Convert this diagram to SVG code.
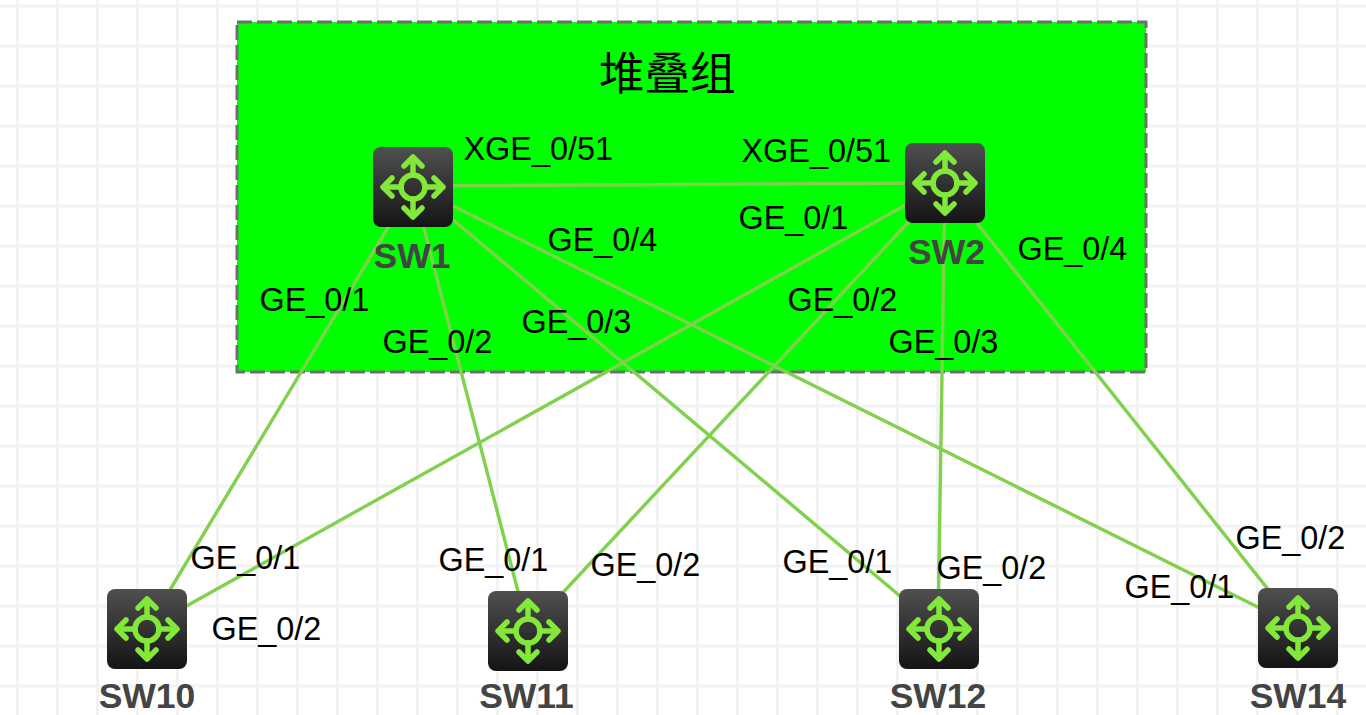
<svg xmlns="http://www.w3.org/2000/svg" width="1366" height="715" viewBox="0 0 1366 715">
<style>
.grid line{stroke:#f3f3f3;stroke-width:3}
.lnk line{stroke:#80d14c;stroke-width:3.4}
.lbl{font:32.4px "Liberation Sans",Arial,sans-serif;fill:#000}
.nm{font:bold 35.5px "Liberation Sans",Arial,sans-serif;fill:#444;text-anchor:middle}
.ic{fill:none;stroke:#82e83a;stroke-width:5.5;stroke-linecap:round;stroke-linejoin:round}
</style>
<defs>
<linearGradient id="g" x1="0" y1="0" x2="0" y2="1"><stop offset="0" stop-color="#505050"/><stop offset="1" stop-color="#141414"/></linearGradient>
<g id="sw">
<rect width="80" height="80" rx="8" fill="url(#g)"/>
<g class="ic">
<circle cx="40" cy="40" r="12"/>
<path d="M40 28V11M40 52V69M28 40H11M52 40H69"/>
<path d="M31 19L40 10L49 19M31 61L40 70L49 61M19 31L10 40L19 49M61 31L70 40L61 49"/>
</g>
</g>
</defs>
<rect width="1366" height="715" fill="#fff"/>
<g class="grid">
<line x1="17.500" y1="0" x2="17.500" y2="715"/><line x1="57.500" y1="0" x2="57.500" y2="715"/><line x1="97.500" y1="0" x2="97.500" y2="715"/><line x1="137.500" y1="0" x2="137.500" y2="715"/><line x1="177.500" y1="0" x2="177.500" y2="715"/><line x1="217.500" y1="0" x2="217.500" y2="715"/><line x1="257.500" y1="0" x2="257.500" y2="715"/><line x1="297.500" y1="0" x2="297.500" y2="715"/><line x1="337.500" y1="0" x2="337.500" y2="715"/><line x1="377.500" y1="0" x2="377.500" y2="715"/><line x1="417.500" y1="0" x2="417.500" y2="715"/><line x1="457.500" y1="0" x2="457.500" y2="715"/><line x1="497.500" y1="0" x2="497.500" y2="715"/><line x1="537.500" y1="0" x2="537.500" y2="715"/><line x1="577.500" y1="0" x2="577.500" y2="715"/><line x1="617.500" y1="0" x2="617.500" y2="715"/><line x1="657.500" y1="0" x2="657.500" y2="715"/><line x1="697.500" y1="0" x2="697.500" y2="715"/><line x1="737.500" y1="0" x2="737.500" y2="715"/><line x1="777.500" y1="0" x2="777.500" y2="715"/><line x1="817.500" y1="0" x2="817.500" y2="715"/><line x1="857.500" y1="0" x2="857.500" y2="715"/><line x1="897.500" y1="0" x2="897.500" y2="715"/><line x1="937.500" y1="0" x2="937.500" y2="715"/><line x1="977.500" y1="0" x2="977.500" y2="715"/><line x1="1017.500" y1="0" x2="1017.500" y2="715"/><line x1="1057.500" y1="0" x2="1057.500" y2="715"/><line x1="1097.500" y1="0" x2="1097.500" y2="715"/><line x1="1137.500" y1="0" x2="1137.500" y2="715"/><line x1="1177.500" y1="0" x2="1177.500" y2="715"/><line x1="1217.500" y1="0" x2="1217.500" y2="715"/><line x1="1257.500" y1="0" x2="1257.500" y2="715"/><line x1="1297.500" y1="0" x2="1297.500" y2="715"/><line x1="1337.500" y1="0" x2="1337.500" y2="715"/>
<line x1="0" y1="6" x2="1366" y2="6"/><line x1="0" y1="46" x2="1366" y2="46"/><line x1="0" y1="86" x2="1366" y2="86"/><line x1="0" y1="126" x2="1366" y2="126"/><line x1="0" y1="166" x2="1366" y2="166"/><line x1="0" y1="206" x2="1366" y2="206"/><line x1="0" y1="246" x2="1366" y2="246"/><line x1="0" y1="286" x2="1366" y2="286"/><line x1="0" y1="326" x2="1366" y2="326"/><line x1="0" y1="366" x2="1366" y2="366"/><line x1="0" y1="406" x2="1366" y2="406"/><line x1="0" y1="446" x2="1366" y2="446"/><line x1="0" y1="486" x2="1366" y2="486"/><line x1="0" y1="526" x2="1366" y2="526"/><line x1="0" y1="566" x2="1366" y2="566"/><line x1="0" y1="606" x2="1366" y2="606"/><line x1="0" y1="646" x2="1366" y2="646"/><line x1="0" y1="686" x2="1366" y2="686"/>
</g>
<g id="stack-group">
<rect x="237" y="22" width="909" height="350" fill="#00ff00" stroke="#6f6f6f" stroke-width="3" stroke-dasharray="15 5"/>
<text x="599" y="90" font-family="'Noto Sans CJK SC',sans-serif" font-size="45.500" font-weight="400" fill="#000">堆叠组</text>
</g>
<g id="connectors" class="lnk">
<line x1="413" y1="186" x2="945" y2="183"/>
<line x1="413" y1="186" x2="147" y2="628"/>
<line x1="413" y1="186" x2="528" y2="630"/>
<line x1="413" y1="186" x2="938" y2="628"/>
<line x1="413" y1="186" x2="1298" y2="627"/>
<line x1="945" y1="183" x2="147" y2="628"/>
<line x1="945" y1="183" x2="528" y2="630"/>
<line x1="945" y1="183" x2="938" y2="628"/>
<line x1="945" y1="183" x2="1298" y2="627"/>
</g>
<g id="SW1"><use href="#sw" x="373" y="147"/><text class="nm" x="412" y="268">SW1</text></g>
<g id="SW2"><use href="#sw" x="905" y="143"/><text class="nm" x="946.500" y="264">SW2</text></g>
<g id="SW10"><use href="#sw" x="107" y="589"/><text class="nm" x="147" y="708">SW10</text></g>
<g id="SW11"><use href="#sw" x="488" y="591"/><text class="nm" x="526.500" y="708">SW11</text></g>
<g id="SW12"><use href="#sw" x="899" y="589"/><text class="nm" x="938" y="708">SW12</text></g>
<g id="SW14"><use href="#sw" x="1258" y="588"/><text class="nm" x="1298" y="708">SW14</text></g>
<g id="labels">
<text class="lbl" x="463.500" y="160">XGE_0/51</text>
<text class="lbl" x="741.500" y="162">XGE_0/51</text>
<text class="lbl" x="547.500" y="251">GE_0/4</text>
<text class="lbl" x="738.500" y="229">GE_0/1</text>
<text class="lbl" x="1017.500" y="260">GE_0/4</text>
<text class="lbl" x="259.500" y="311">GE_0/1</text>
<text class="lbl" x="382.500" y="353">GE_0/2</text>
<text class="lbl" x="521.500" y="333">GE_0/3</text>
<text class="lbl" x="787.500" y="311">GE_0/2</text>
<text class="lbl" x="888.500" y="353">GE_0/3</text>
<text class="lbl" x="190.500" y="569">GE_0/1</text>
<text class="lbl" x="211.500" y="640">GE_0/2</text>
<text class="lbl" x="438.500" y="571">GE_0/1</text>
<text class="lbl" x="590.500" y="576">GE_0/2</text>
<text class="lbl" x="782.500" y="573">GE_0/1</text>
<text class="lbl" x="936.500" y="579">GE_0/2</text>
<text class="lbl" x="1124.500" y="598">GE_0/1</text>
<text class="lbl" x="1235.500" y="549">GE_0/2</text>
</g>
</svg>
